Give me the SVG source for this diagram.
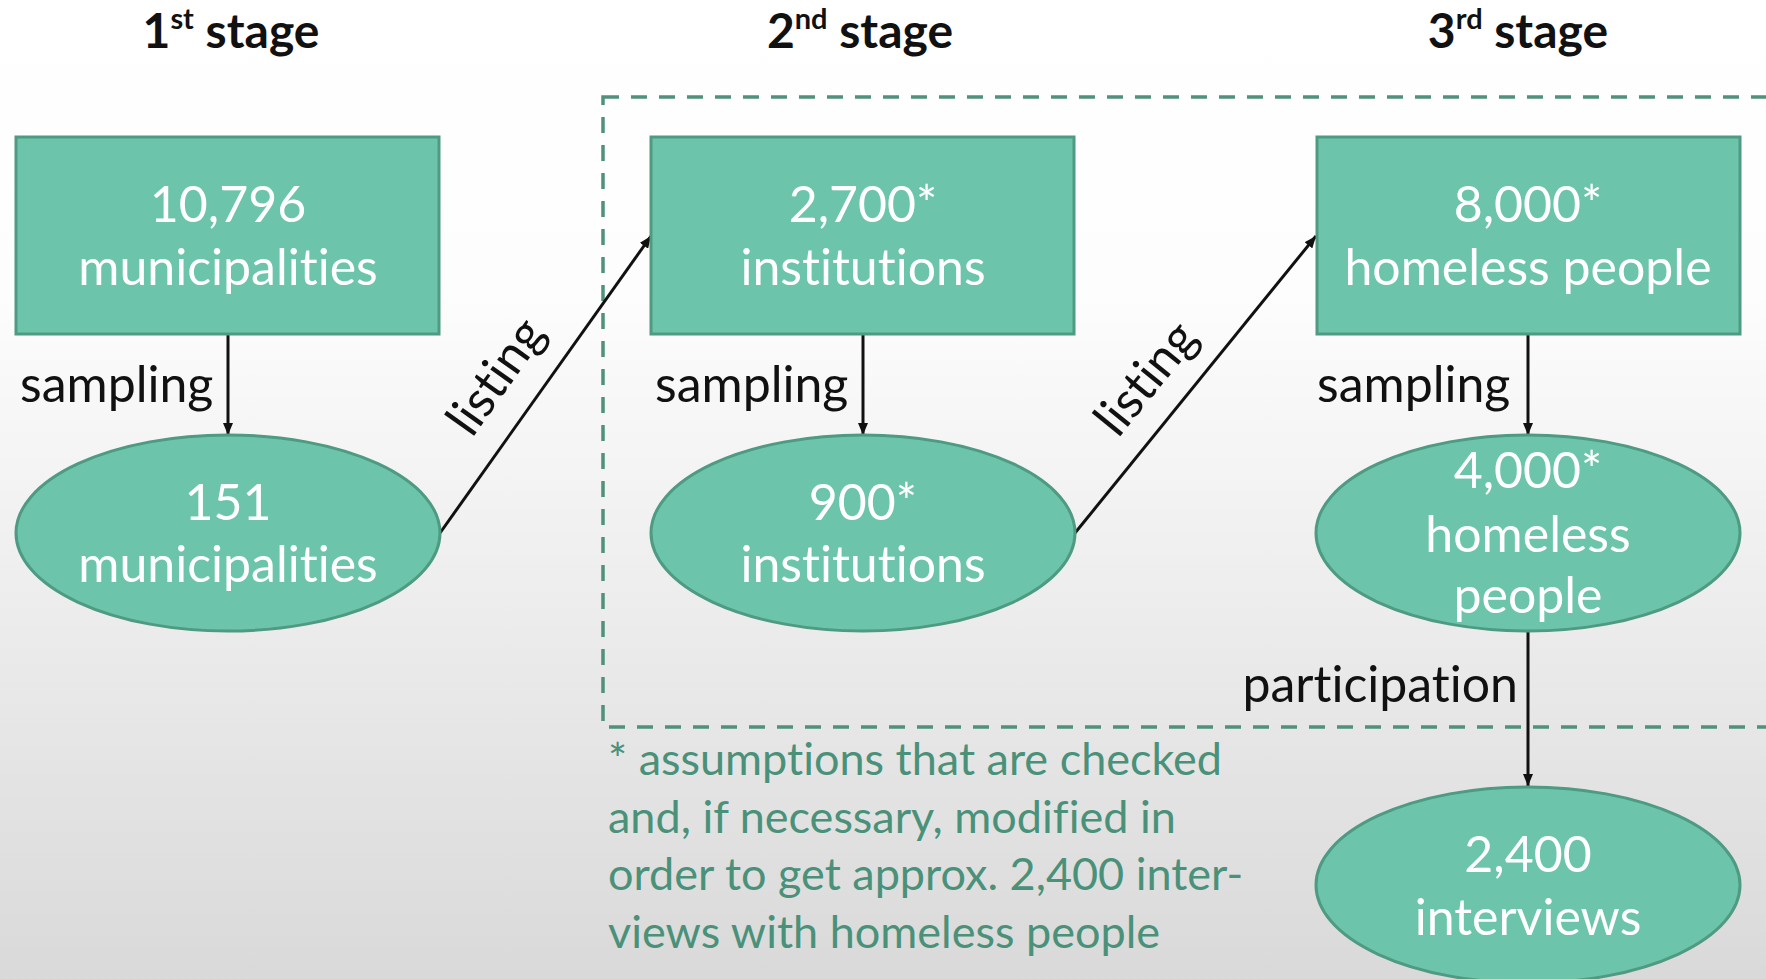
<svg xmlns="http://www.w3.org/2000/svg" width="1766" height="979" viewBox="0 0 1766 979">
<defs>
<linearGradient id="bg" x1="0" y1="0" x2="0" y2="1">
<stop offset="0" stop-color="#ffffff"/>
<stop offset="0.3" stop-color="#fdfdfd"/>
<stop offset="1" stop-color="#d9d9d9"/>
</linearGradient>
<marker id="arr" viewBox="0 0 12 10" refX="12" refY="5" markerWidth="12" markerHeight="10" markerUnits="userSpaceOnUse" orient="auto">
<path d="M0,0 L12,5 L0,10 Z" fill="#111"/>
</marker>
<style>
text{font-variant-ligatures:none;font-feature-settings:"liga" 0,"clig" 0}
.node{fill:#6cc5aa;stroke:#4e9a82;stroke-width:3}
.nt{font-family:Lato,"Open Sans",sans-serif;font-size:50px;fill:#ffffff;text-anchor:middle}
.lbl{font-family:Lato,"Open Sans",sans-serif;font-size:50px;fill:#111111}
.hd{font-family:Lato,"Open Sans",sans-serif;font-size:48px;font-weight:bold;fill:#111111;text-anchor:middle}
.fn{font-family:Lato,"Open Sans",sans-serif;font-size:45px;fill:#4a917a}
.edge{stroke:#111;stroke-width:3;fill:none;marker-end:url(#arr)}
</style>
</defs>
<rect width="1766" height="979" fill="url(#bg)"/>
<g id="headers">
<text class="hd" x="231" y="48">1<tspan font-size="29" dy="-19">st</tspan><tspan dy="19"> stage</tspan></text>
<text class="hd" x="860" y="48">2<tspan font-size="29" dy="-19">nd</tspan><tspan dy="19"> stage</tspan></text>
<text class="hd" x="1518" y="48">3<tspan font-size="29" dy="-19">rd</tspan><tspan dy="19"> stage</tspan></text>
</g>
<g id="stage-box">
<rect x="603" y="97" width="1250" height="630" fill="none" stroke="#4f917b" stroke-width="3.5" stroke-dasharray="16 12"/>
</g>
<g id="connectors">
<line class="edge" x1="228" y1="335" x2="228" y2="435"/>
<line class="edge" x1="440" y1="533" x2="651" y2="236"/>
<line class="edge" x1="863" y1="335" x2="863" y2="435"/>
<line class="edge" x1="1075" y1="533" x2="1316" y2="236"/>
<line class="edge" x1="1528" y1="335" x2="1528" y2="435"/>
<line class="edge" x1="1528" y1="632" x2="1528" y2="786"/>
<text class="lbl" x="20" y="402">sampling</text>
<text class="lbl" x="655" y="402">sampling</text>
<text class="lbl" x="1317" y="402">sampling</text>
<text class="lbl" x="1518" y="702" text-anchor="end">participation</text>
<text class="lbl" text-anchor="middle" transform="translate(498,378) rotate(-54.6)" y="14">listing</text>
<text class="lbl" text-anchor="middle" transform="translate(1148,380) rotate(-50.9)" y="14">listing</text>
</g>
<g id="n1">
<rect class="node" x="16" y="137" width="423" height="197"/>
<text class="nt" x="228" y="222">10,796</text>
<text class="nt" x="228" y="285">municipalities</text>
</g>
<g id="n2">
<ellipse class="node" cx="228" cy="533" rx="212" ry="98"/>
<text class="nt" x="228" y="520">151</text>
<text class="nt" x="228" y="582">municipalities</text>
</g>
<g id="n3">
<rect class="node" x="651" y="137" width="423" height="197"/>
<text class="nt" x="863" y="222">2,700*</text>
<text class="nt" x="863" y="285">institutions</text>
</g>
<g id="n4">
<ellipse class="node" cx="863" cy="533" rx="212" ry="98"/>
<text class="nt" x="863" y="520">900*</text>
<text class="nt" x="863" y="582">institutions</text>
</g>
<g id="n5">
<rect class="node" x="1317" y="137" width="423" height="197"/>
<text class="nt" x="1528" y="222">8,000*</text>
<text class="nt" x="1528" y="285">homeless people</text>
</g>
<g id="n6">
<ellipse class="node" cx="1528" cy="533" rx="212" ry="98"/>
<text class="nt" x="1528" y="488">4,000*</text>
<text class="nt" x="1528" y="552">homeless</text>
<text class="nt" x="1528" y="613">people</text>
</g>
<g id="n7">
<ellipse class="node" cx="1528" cy="885" rx="212" ry="98"/>
<text class="nt" x="1528" y="872">2,400</text>
<text class="nt" x="1528" y="935">interviews</text>
</g>
<g id="footnote">
<text class="fn" x="608" y="775">* assumptions that are checked</text>
<text class="fn" x="608" y="833">and, if necessary, modified in</text>
<text class="fn" x="608" y="890">order to get approx. 2,400 inter-</text>
<text class="fn" x="608" y="948">views with homeless people</text>
</g>
</svg>
